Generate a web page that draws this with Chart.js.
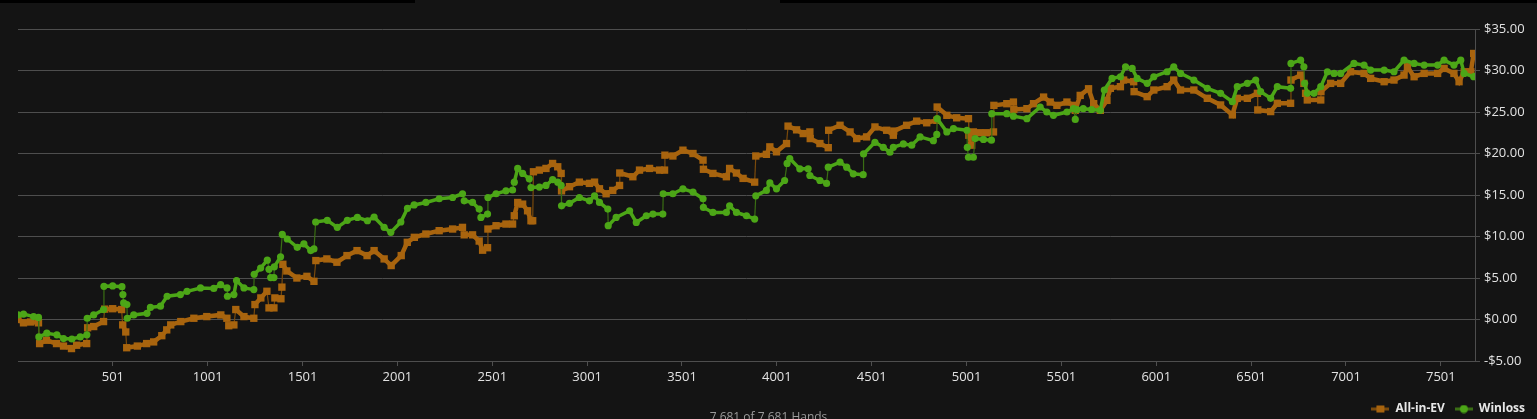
<!DOCTYPE html>
<html>
<head>
<meta charset="utf-8">
<script src="https://cdn.jsdelivr.net/npm/chart.js@4"></script>
<style>
  html, body { margin: 0; padding: 0; background: #141414; overflow: hidden; }
  .topbar { position: absolute; top: 0; height: 3px; background: #000; }
  #wrap { position: absolute; left: 0; top: 0; width: 1537px; height: 425px; }
  #hands { position: absolute; left: 0; width: 1537px; top: 410px; text-align: center;
           font: 12px "Open Sans", "DejaVu Sans", sans-serif; line-height: 14px; color: #9a9a9a; }
</style>
</head>
<body>
<div class="topbar" style="left:0;width:415px"></div>
<div class="topbar" style="left:780px;width:757px"></div>
<div id="wrap"><canvas id="graph"></canvas></div>
<div id="hands">7,681 of 7,681 Hands</div>
<script>
// hand numbers and running $ totals
const evHands = [1,30,67,109,115,151,204,241,283,310,363,368,400,452,458,500,547,553,569,574,630,679,716,759,785,806,859,928,996,1070,1102,1112,1139,1149,1192,1244,1250,1281,1313,1324,1350,1355,1387,1392,1397,1418,1471,1524,1561,1571,1629,1682,1735,1788,1841,1878,1931,1968,2021,2053,2090,
  2151,2221,2292,2344,2353,2397,2432,2450,2476,2478,2521,2573,2608,2617,2635,2661,2687,2705,2714,2718,2749,2784,2819,2846,2864,2866,2908,2960,3013,3040,3066,3101,3136,3172,3173,3242,3277,3330,3383,3409,3411,3453,3506,3559,3612,3614,3664,3735,3752,3788,3823,3884,3890,3946,3964,3999,4052,4060,4105,
  4140,4175,4177,4228,4272,4274,4334,4387,4422,4474,4518,4580,4615,4617,4685,4738,4791,4844,4846,4897,4949,5011,5013,5028,5037,5070,5105,5143,5145,5213,5248,5250,5319,5354,5407,5442,5477,5530,5565,5574,5600,5644,5671,
  5706,5741,5759,5812,5829,5882,5884,5953,5988,6058,6093,6129,6199,6270,6340,6402,6428,6481,6534,6536,6604,6639,6709,6711,6762,6779,6788,6797,6868,6869,6920,6973,7025,7096,7131,7202,7254,7307,7325,7360,7413,7484,7518,7570,7597,7624,7659,7674,7681];
const evValues = [0.0,-0.4,-0.3,-0.4,-2.9,-2.5,-2.9,-3.2,-3.5,-3.1,-2.9,-1.0,-0.85,-0.25,1.25,1.3,1.2,-0.65,-1.5,-3.4,-3.2,-2.9,-2.7,-1.95,-1.25,-0.65,-0.25,0.15,0.35,0.55,0.15,-0.75,-0.65,1.2,0.35,0.15,1.8,2.6,3.4,1.4,1.4,2.6,2.5,3.9,6.65,5.85,5.0,5.2,4.6,7.1,7.3,6.9,7.7,8.3,7.7,8.3,7.3,6.5,7.7,9.3,9.9,
  10.3,10.7,10.9,11.1,10.2,10.2,9.45,8.35,8.65,10.9,11.3,11.5,11.5,12.5,14.1,13.9,13.1,11.9,11.9,17.8,18.0,18.2,18.8,18.4,17.6,15.5,16.0,16.55,16.4,16.55,15.75,15.15,15.55,16.15,17.65,17.2,18.0,18.2,18.0,18.0,19.8,19.7,20.4,20.0,19.2,18.1,17.6,17.2,18.2,17.65,17.0,16.55,19.7,19.9,20.8,20.2,21.2,23.3,22.85,
  22.4,22.6,21.8,21.2,20.7,22.8,23.4,22.6,21.8,22.0,23.2,22.8,22.2,22.7,23.4,23.9,23.7,24.0,25.6,24.6,24.3,24.2,22.2,21.0,22.6,22.5,22.5,22.6,25.8,26.0,26.2,25.3,25.4,26.0,26.8,26.2,25.8,26.2,25.8,25.2,27.0,27.8,26.0,
  25.2,26.4,27.85,28.05,28.85,28.65,27.45,26.85,27.65,28.05,28.85,27.65,27.65,26.65,25.85,24.65,26.65,26.65,27.25,25.25,25.05,26.05,26.05,28.85,29.45,28.45,27.25,26.45,26.45,27.45,28.45,28.45,29.85,29.65,29.05,28.65,28.85,29.45,30.45,29.25,29.65,29.65,30.25,29.65,28.65,29.85,29.85,32.05,31.8];

const wlHands = [1,30,83,109,111,153,206,241,285,329,364,366,400,452,454,500,549,554,558,575,577,611,681,699,752,787,857,892,963,1033,1069,1103,1105,1139,1153,1192,1244,1246,1280,1315,1324,1333,1350,1352,1385,1394,1420,1473,1508,1544,1561,1570,1631,1684,1737,1790,1843,1878,1931,1966,2019,2054,2089,
  2151,2221,2292,2344,2353,2397,2432,2441,2476,2478,2521,2573,2608,2617,2635,2661,2696,2705,2749,2784,2819,2846,2864,2866,2908,2960,3013,3040,3066,3110,3112,3154,3225,3260,3313,3348,3400,3402,3453,3506,3559,3612,3614,3664,3735,3752,3788,3841,3884,3890,3946,3964,3999,4042,4055,4069,4122,
  4166,4175,4228,4263,4272,4334,4369,4404,4456,4458,4518,4562,4597,4615,4668,4712,4756,4826,4844,4846,4897,4932,5003,5005,5011,5037,5046,5090,5132,5134,5213,5248,5319,5389,5424,5459,5530,5565,5574,5583,5616,5660,5706,
  5727,5768,5812,5839,5874,5900,5953,5988,6058,6093,6129,6199,6270,6340,6402,6428,6481,6525,6551,6604,6639,6709,6711,6762,6779,6783,6797,6832,6868,6903,6938,6973,7043,7096,7131,7202,7254,7307,7360,7413,7484,7518,7570,7606,7624,7674,7681];
const wlValues = [0.55,0.65,0.35,0.25,-2.1,-1.65,-1.85,-2.3,-2.35,-2.1,-1.85,0.15,0.55,1.2,4.0,4.05,3.95,3.0,2.0,1.8,0.15,0.55,0.75,1.45,1.6,2.8,3.0,3.4,3.8,3.75,4.2,3.8,2.8,3.0,4.7,3.8,3.6,5.45,6.2,7.15,6.05,5.05,5.05,6.35,7.55,10.25,9.7,8.7,9.1,8.3,8.5,11.75,11.95,11.1,11.95,12.3,11.9,12.35,11.1,10.5,11.75,13.4,13.8,
  14.1,14.55,14.7,15.15,14.3,14.1,13.3,12.3,12.7,14.7,15.15,15.5,15.6,16.55,18.2,17.6,16.95,15.9,15.95,16.15,16.85,16.55,16.15,13.7,14.0,14.7,14.3,14.9,14.1,13.3,11.3,12.3,13.1,11.7,12.5,12.7,12.7,15.15,15.15,15.75,15.35,14.55,13.5,12.9,12.9,13.7,12.9,12.5,12.1,14.9,15.55,16.45,15.75,16.75,18.8,19.4,18.15,
  18.15,17.35,16.75,16.4,18.35,18.95,18.35,17.55,17.45,19.95,21.35,20.75,20.15,20.75,21.15,21.0,22.0,21.55,22.3,24.2,22.6,23.0,22.8,20.75,19.55,19.55,21.8,21.7,21.6,24.8,24.8,24.5,24.2,25.6,25.0,24.6,25.0,25.4,24.1,25.3,25.4,25.3,25.2,
  27.65,29.05,29.25,30.45,30.25,29.05,28.45,29.25,29.85,30.45,29.65,28.85,27.85,27.25,26.25,28.05,28.45,28.85,27.45,26.65,28.05,27.85,30.85,31.25,30.45,28.45,27.25,27.25,28.05,29.85,29.65,29.65,30.85,30.65,30.05,30.05,29.85,31.25,30.85,30.65,30.65,31.25,30.65,31.25,29.65,29.25,29.3];

const handTicks = [501,1001,1501,2001,2501,3001,3501,4001,4501,5001,5501,6001,6501,7001,7501];
const totalHands = 7681;

const EV_COLOR = '#a8640e';
const EV_LINE = '#7a4a0c';
const WL_COLOR = '#4ca617';
const WL_LINE = '#3a6e14';

// legend symbol: short line with the marker on it
function legendIcon(lineColor, fillColor, square) {
    const c = document.createElement('canvas');
    c.width = 18; c.height = 9;
    const g = c.getContext('2d');
    g.fillStyle = lineColor;
    g.fillRect(0, 3, 18, 3);
    g.fillStyle = fillColor;
    if (square) {
        g.fillRect(5, 1, 8, 7);
    } else {
        g.beginPath();
        g.arc(9, 4.5, 4, 0, Math.PI * 2);
        g.fill();
    }
    return c;
}

function toPoints(hands, values) {
    return hands.map((h, i) => ({ x: h, y: values[i] }));
}

// jumps (near vertical segments) are thin and dark, the rest blends with the markers
const isJump = (c) => Math.abs(c.p1.x - c.p0.x) < 2.5;

const gridColor = '#4e4e4e';
const fontFamily = '"Open Sans", "DejaVu Sans", sans-serif';

new Chart(document.getElementById('graph'), {
    type: 'line',
    data: {
        datasets: [
            {
                label: 'Winloss',
                data: toPoints(wlHands, wlValues),
                borderColor: WL_COLOR,
                borderWidth: 3.5,
                segment: {
                    borderColor: c => isJump(c) ? WL_LINE : WL_COLOR,
                    borderWidth: c => isJump(c) ? 1.2 : 3.5
                },
                pointStyle: 'circle',
                pointRadius: 3.6,
                pointBackgroundColor: WL_COLOR,
                pointBorderColor: WL_COLOR,
                pointBorderWidth: 0,
                tension: 0
            },
            {
                label: 'All-in-EV',
                data: toPoints(evHands, evValues),
                borderColor: EV_COLOR,
                borderWidth: 4.5,
                segment: {
                    borderColor: c => isJump(c) ? EV_LINE : EV_COLOR,
                    borderWidth: c => isJump(c) ? 1.2 : 4.5
                },
                pointStyle: 'rect',
                pointRadius: 5.2,
                pointBackgroundColor: EV_COLOR,
                pointBorderColor: EV_COLOR,
                pointBorderWidth: 0,
                tension: 0
            }
        ]
    },
    options: {
        responsive: true,
        maintainAspectRatio: false,
        animation: false,
        devicePixelRatio: 1,
        layout: { padding: { left: 18, top: 29, right: 2, bottom: 0 } },
        scales: {
            x: {
                type: 'linear',
                min: 1,
                max: totalHands,
                afterBuildTicks: (axis) => { axis.ticks = handTicks.map(v => ({ value: v })); },
                afterFit: (axis) => { axis.height = 32; },
                grid: { drawOnChartArea: false, drawTicks: true, tickLength: 5, color: gridColor },
                border: { display: true, color: gridColor },
                ticks: {
                    color: '#e2e2e2',
                    font: { family: fontFamily, size: 13 },
                    padding: 3,
                    maxRotation: 0,
                    autoSkip: false,
                    callback: (v) => String(v)
                }
            },
            y: {
                position: 'right',
                min: -5,
                max: 35,
                afterFit: (axis) => { axis.width = 60; },
                grid: { color: gridColor, tickLength: 5 },
                border: { display: true, color: gridColor },
                ticks: {
                    stepSize: 5,
                    color: '#e2e2e2',
                    font: { family: fontFamily, size: 13 },
                    padding: 4,
                    callback: (v) => (v < 0 ? '-$' : '$') + Math.abs(v).toFixed(2)
                }
            }
        },
        plugins: {
            legend: {
                position: 'bottom',
                align: 'end',
                reverse: true,
                labels: {
                    color: '#e8e8e8',
                    font: { family: fontFamily, size: 12, weight: 'bold' },
                    usePointStyle: true,
                    pointStyleWidth: 18,
                    padding: 10,
                    generateLabels: (chart) => {
                        const items = Chart.defaults.plugins.legend.labels.generateLabels(chart);
                        items.forEach(it => {
                            it.pointStyle = it.datasetIndex === 1
                                ? legendIcon(EV_LINE, EV_COLOR, true)
                                : legendIcon(WL_LINE, WL_COLOR, false);
                        });
                        return items;
                    }
                }
            },
            tooltip: { enabled: false }
        }
    }
});
</script>
</body>
</html>
